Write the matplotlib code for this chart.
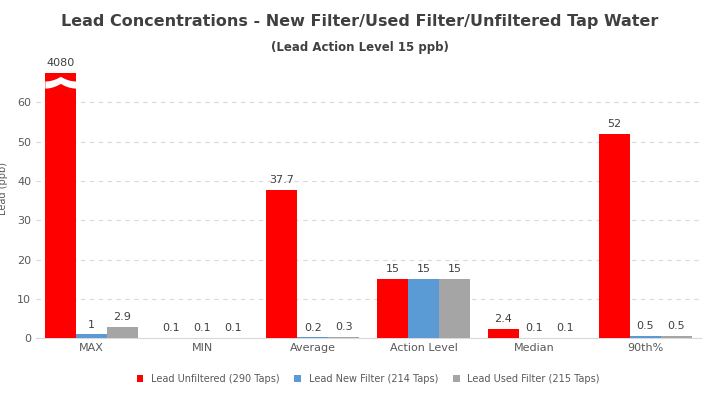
import matplotlib
matplotlib.use("Agg")
import matplotlib.pyplot as plt
import numpy as np

categories = ["MAX", "MIN", "Average", "Action Level", "Median", "90th%"]
unfiltered = [4080, 0.1, 37.7, 15, 2.4, 52]
new_filter = [1, 0.1, 0.2, 15, 0.1, 0.5]
used_filter = [2.9, 0.1, 0.3, 15, 0.1, 0.5]
series_names = ["Lead Unfiltered (290 Taps)", "Lead New Filter (214 Taps)", "Lead Used Filter (215 Taps)"]
colors = ["#FF0000", "#5B9BD5", "#A5A5A5"]
y_cap = 67.5

fig = plt.figure(figsize=(7.2, 4.05), dpi=100)
ax = fig.add_axes([0.05, 0.165, 0.923, 0.67])
x = np.arange(len(categories))
w = 0.28
for i, (vals, c, name) in enumerate(zip([unfiltered, new_filter, used_filter], colors, series_names)):
    xs = x + (i - 1) * w
    shown = [min(v, y_cap) for v in vals]
    ax.bar(xs, shown, w, color=c, label=name, zorder=3)
    for xi, v, s in zip(xs, vals, shown):
        ax.text(xi, s + 1.2, f"{v:g}", ha="center", va="bottom", fontsize=8, color="#404040")

# axis break on the capped bar
bx = x[0] - w
t = np.linspace(-w / 2, w / 2, 41)
zig = 64.5 + 1.2 * (1 - np.abs(t) / (w / 2)) ** 2
ax.fill_between(bx + t, zig - 0.9, zig + 0.9, color="white", zorder=4, linewidth=0)

ax.set_ylim(0, 69)
ax.set_xlim(-0.5, 5.5)
ax.set_yticks(range(0, 61, 10))
ax.set_xticks(x)
ax.set_xticklabels(categories)
ax.tick_params(axis="both", length=0, labelsize=8, colors="#595959")
ax.yaxis.grid(True, linestyle=(0, (4, 4)), color="#D9D9D9", zorder=0)
for s in ["top", "right", "left"]:
    ax.spines[s].set_visible(False)
ax.spines["bottom"].set_color("#D9D9D9")
ax.set_ylabel("Lead (ppb)", fontsize=7, color="#595959")
ax.yaxis.set_label_coords(-0.042, 0.55)

fig.text(0.5, 0.935, "Lead Concentrations - New Filter/Used Filter/Unfiltered Tap Water",
         ha="center", fontsize=11.5, fontweight="bold", color="#404040")
fig.text(0.5, 0.875, "(Lead Action Level 15 ppb)", ha="center", fontsize=8.5,
         fontweight="bold", color="#404040")
ax.legend(loc="upper center", bbox_to_anchor=(0.5, -0.1), ncol=3, frameon=False,
          fontsize=7, handlelength=0.7, handleheight=0.7, columnspacing=1.5,
          labelcolor="#595959")
fig.savefig("out.png", dpi=100)
